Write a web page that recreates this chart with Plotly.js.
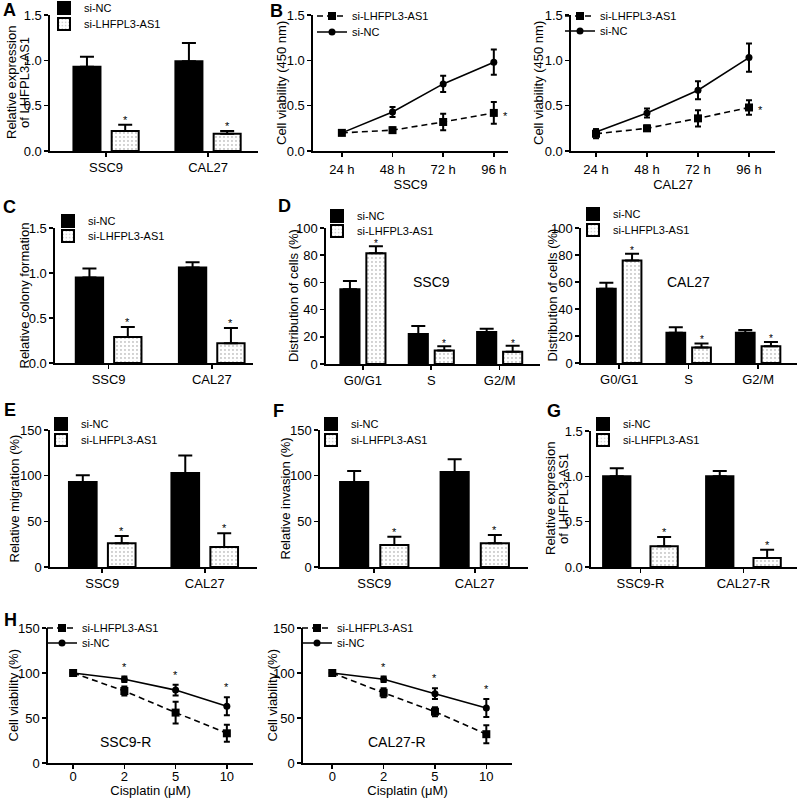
<!DOCTYPE html>
<html><head><meta charset="utf-8">
<script src="https://cdn.plot.ly/plotly-3.0.1.min.js"></script>
<style>html,body{margin:0;padding:0;background:#fff}</style>
</head><body><div id="chart" style="width:800px;height:798px"></div>
<script>
// ---------------- DATA ----------------
const seriesNC = 'si-NC';
const seriesLH = 'si-LHFPL3-AS1';

// A: relative expression of LHFPL3-AS1
const A_categories = ['SSC9', 'CAL27'];
const A_siNC = [0.93, 0.99];
const A_siNC_err = [0.11, 0.20];
const A_siLH = [0.22, 0.19];
const A_siLH_err = [0.07, 0.03];

// B: CCK-8 cell viability
const B_timepoints = ['24 h', '48 h', '72 h', '96 h'];
const B_SSC9_siLH = [0.20, 0.23, 0.32, 0.42];
const B_SSC9_siLH_err = [0.01, 0.03, 0.09, 0.12];
const B_SSC9_siNC = [0.20, 0.43, 0.74, 0.98];
const B_SSC9_siNC_err = [0.01, 0.055, 0.09, 0.14];
const B_CAL27_siLH = [0.19, 0.25, 0.36, 0.48];
const B_CAL27_siLH_err = [0.05, 0.03, 0.09, 0.08];
const B_CAL27_siNC = [0.21, 0.42, 0.67, 1.03];
const B_CAL27_siNC_err = [0.03, 0.05, 0.10, 0.155];

// C: relative colony formation
const C_categories = ['SSC9', 'CAL27'];
const C_siNC = [0.95, 1.06];
const C_siNC_err = [0.10, 0.06];
const C_siLH = [0.29, 0.22];
const C_siLH_err = [0.11, 0.17];

// D: cell cycle distribution
const D_phases = ['G0/G1', 'S', 'G2/M'];
const D_SSC9_siNC = [55, 22, 23.5];
const D_SSC9_siNC_err = [6, 6, 2.5];
const D_SSC9_siLH = [81.5, 10, 9];
const D_SSC9_siLH_err = [5, 3, 4.5];
const D_CAL27_siNC = [55, 22.5, 22.5];
const D_CAL27_siNC_err = [4.5, 4, 2];
const D_CAL27_siLH = [76, 11.5, 12.5];
const D_CAL27_siLH_err = [5, 3, 3];

// E: relative migration
const E_categories = ['SSC9', 'CAL27'];
const E_siNC = [93, 103];
const E_siNC_err = [7.5, 19];
const E_siLH = [26, 22];
const E_siLH_err = [8, 15];

// F: relative invasion
const F_categories = ['SSC9', 'CAL27'];
const F_siNC = [93, 104];
const F_siNC_err = [12, 14];
const F_siLH = [24, 26];
const F_siLH_err = [9, 9];

// G: expression in resistant lines
const G_categories = ['SSC9-R', 'CAL27-R'];
const G_siNC = [1.00, 1.00];
const G_siNC_err = [0.09, 0.06];
const G_siLH = [0.23, 0.10];
const G_siLH_err = [0.10, 0.09];

// H: cisplatin dose response
const H_doses = ['0', '2', '5', '10'];
const H_SSC9R_siLH = [100, 80, 56, 33];
const H_SSC9R_siLH_err = [0, 5, 12, 9.5];
const H_SSC9R_siNC = [100, 93, 81, 63];
const H_SSC9R_siNC_err = [0, 3, 6, 10];
const H_CAL27R_siLH = [100, 78, 57, 32];
const H_CAL27R_siLH_err = [0, 5, 5, 10];
const H_CAL27R_siNC = [100, 93, 77, 61];
const H_CAL27R_siNC_err = [0, 3, 6, 10];

// ---------------- BUILD ----------------
const W = 800, H = 798;
const FONT = '"Liberation Sans", Arial, sans-serif';
const BLACK = '#000000';
const traces = [];
const layout = {
  width: W, height: H,
  margin: {l: 0, r: 0, t: 0, b: 0, autoexpand: false},
  paper_bgcolor: '#ffffff', plot_bgcolor: 'rgba(0,0,0,0)',
  font: {family: FONT, color: BLACK, size: 13},
  showlegend: true,
  annotations: []
};
let axN = 0, legN = 0;

// y-axis title, one rotated annotation per line so line spacing matches the reference
function yTitle(lines, xs, box) {
  lines.forEach((text, i) => layout.annotations.push({
    xref: 'paper', yref: 'paper', x: xs[i] / W, y: 1 - (box.t + box.b) / 2 / H,
    xanchor: 'center', yanchor: 'middle', textangle: -90, text: text, showarrow: false,
    font: {size: 13, family: FONT, color: BLACK}
  }));
}

function axisPair(box, xr, yr, yfmt, ydtick, xtitle, xlabShift) {
  axN++;
  const sfx = axN === 1 ? '' : String(axN);
  const xid = 'x' + sfx, yid = 'y' + sfx;
  const common = {
    showline: true, linecolor: BLACK, linewidth: 1.6,
    ticks: 'outside', ticklen: 4, tickwidth: 1.6, tickcolor: BLACK,
    showgrid: false, zeroline: false, fixedrange: true,
    tickfont: {size: 13, family: FONT, color: BLACK}
  };
  layout['xaxis' + sfx] = Object.assign({}, common, {
    type: 'category', domain: [box.l / W, box.r / W], anchor: yid, range: xr,
    ticklabelstandoff: xlabShift || 0,
    title: xtitle ? {text: xtitle, font: {size: 13, family: FONT, color: BLACK}, standoff: 2} : {text: ''}
  });
  layout['yaxis' + sfx] = Object.assign({}, common, {
    domain: [1 - box.b / H, 1 - box.t / H], anchor: xid, range: yr,
    dtick: ydtick, tick0: 0, tickformat: yfmt, title: {text: ''}
  });
  return {xid, yid};
}

// one legend per entry so each entry can sit exactly where the reference has it
function addLegend(textPx, centerPx) {
  legN++;
  const key = legN === 1 ? 'legend' : 'legend' + legN;
  layout[key] = {
    x: (textPx - 40) / W, y: 1 - (centerPx - 13.5) / H, xanchor: 'left', yanchor: 'top',
    bgcolor: 'rgba(0,0,0,0)', borderwidth: 0, font: {size: 11, family: FONT, color: BLACK},
    itemwidth: 30, traceorder: 'normal', tracegroupgap: 0
  };
  return key;
}

function star(xid, yid, x, y, opts, size) {
  layout.annotations.push(Object.assign({
    xref: xid, yref: yid, x: x, y: y, text: '*', showarrow: false,
    yanchor: 'bottom', font: {size: size || 11, family: FONT, color: BLACK}
  }, opts || {}));
}

function panelText(xid, yid, lab) {
  layout.annotations.push({xref: xid, yref: yid, x: lab.x, y: lab.y, text: lab.text,
    showarrow: false, font: {size: 14, family: FONT, color: BLACK}});
}

function barPanel(c) {
  const {xid, yid} = axisPair(c.box, c.xr, c.yr, c.yfmt, c.dtick, null, 0);
  yTitle(c.ytitle, c.ytx, c.box);
  const legNC = addLegend(c.legText, c.legY[0]);
  const legLH = addLegend(c.legText, c.legY[1]);
  const zeros = c.nc.map(() => 0);
  traces.push({
    type: 'bar', x: c.cats, y: c.nc, xaxis: xid, yaxis: yid, name: seriesNC, legend: legNC,
    width: c.w, offset: -c.g / 2 - c.w,
    marker: {color: BLACK, line: {color: BLACK, width: 2}},
    error_y: {type: 'data', array: c.ncErr, arrayminus: zeros, symmetric: false, color: BLACK, thickness: 2, width: 7},
    hoverinfo: 'skip'
  });
  traces.push({
    type: 'bar', x: c.cats, y: c.lh, xaxis: xid, yaxis: yid, name: seriesLH, legend: legLH,
    width: c.w, offset: c.g / 2,
    marker: {color: '#ffffff', line: {color: BLACK, width: 2},
      pattern: {shape: '.', fgcolor: '#909090', bgcolor: '#ffffff', size: 4, solidity: 0.1}},
    error_y: {type: 'data', array: c.lhErr, arrayminus: zeros, symmetric: false, color: BLACK, thickness: 2, width: 7},
    hoverinfo: 'skip'
  });
  c.lh.forEach((v, i) => star(xid, yid, i + c.g / 2 + c.w / 2, v + c.lhErr[i],
    {yshift: c.starShift !== undefined ? c.starShift : -3}, c.starSize));
  if (c.label) panelText(xid, yid, c.label);
}

function linePanel(c) {
  const {xid, yid} = axisPair(c.box, c.xr, c.yr, c.yfmt, c.dtick, c.xtitle, c.xlabShift);
  yTitle(c.ytitle, c.ytx, c.box);
  const legLH = addLegend(c.legText, c.legY[0]);
  const legNC = addLegend(c.legText, c.legY[1]);
  traces.push({
    type: 'scatter', mode: 'lines+markers', x: c.cats, y: c.lh, xaxis: xid, yaxis: yid,
    name: seriesLH, legend: legLH,
    line: {color: BLACK, width: 1.6, dash: '6px,4px'},
    marker: {symbol: 'square', size: 8, color: BLACK},
    error_y: {type: 'data', array: c.lhErr, color: BLACK, thickness: 2, width: 3},
    hoverinfo: 'skip'
  });
  traces.push({
    type: 'scatter', mode: 'lines+markers', x: c.cats, y: c.nc, xaxis: xid, yaxis: yid,
    name: seriesNC, legend: legNC,
    line: {color: BLACK, width: 1.6},
    marker: {symbol: 'circle', size: 7, color: BLACK},
    error_y: {type: 'data', array: c.ncErr, color: BLACK, thickness: 2, width: 3},
    hoverinfo: 'skip'
  });
  if (c.starRight) {
    const last = c.lh.length - 1;
    star(xid, yid, last, c.lh[last], {yanchor: 'middle', xshift: 12, yshift: -3});
  }
  if (c.starAbove) {
    c.nc.forEach((v, i) => { if (i > 0) star(xid, yid, i, v + c.ncErr[i], {yshift: 2}); });
  }
  if (c.label) panelText(xid, yid, c.label);
}

// A
barPanel({box: {l: 50, r: 258, t: 15, b: 151}, xr: [-0.55, 1.49], yr: [0, 1.5], dtick: 0.5, yfmt: '.1f',
  ytitle: ['Relative expression', 'of LHFPL3-AS1'], ytx: [11, 24],
  cats: A_categories, nc: A_siNC, ncErr: A_siNC_err, lh: A_siLH, lhErr: A_siLH_err,
  w: 0.265, g: 0.11, legText: 84, legY: [7, 23]});
// B left
linePanel({box: {l: 313, r: 508, t: 15, b: 151}, xr: [-0.57, 3.28], yr: [0, 1.5], dtick: 0.5, yfmt: '.1f',
  ytitle: ['Cell viability (450 nm)'], ytx: [281], xtitle: 'SSC9', xlabShift: 2,
  cats: B_timepoints, nc: B_SSC9_siNC, ncErr: B_SSC9_siNC_err, lh: B_SSC9_siLH, lhErr: B_SSC9_siLH_err,
  legText: 352, legY: [15, 31], starRight: true});
// B right
linePanel({box: {l: 571, r: 775, t: 15, b: 151}, xr: [-0.49, 3.51], yr: [0, 1.5], dtick: 0.5, yfmt: '.1f',
  ytitle: ['Cell viability (450 nm)'], ytx: [538], xtitle: 'CAL27', xlabShift: 2,
  cats: B_timepoints, nc: B_CAL27_siNC, ncErr: B_CAL27_siNC_err, lh: B_CAL27_siLH, lhErr: B_CAL27_siLH_err,
  legText: 600, legY: [15, 30], starRight: true});
// C
barPanel({box: {l: 55, r: 253, t: 228, b: 363}, xr: [-0.52, 1.40], yr: [0, 1.5], dtick: 0.5, yfmt: '.1f',
  ytitle: ['Relative colony formation'], ytx: [24],
  cats: C_categories, nc: C_siNC, ncErr: C_siNC_err, lh: C_siLH, lhErr: C_siLH_err,
  w: 0.265, g: 0.107, legText: 88, legY: [220, 235]});
// D left
barPanel({box: {l: 326, r: 540, t: 228, b: 364}, xr: [-0.54, 2.59], yr: [0, 100], dtick: 20, yfmt: 'd',
  ytitle: ['Distribution of cells (%)'], ytx: [293],
  cats: D_phases, nc: D_SSC9_siNC, ncErr: D_SSC9_siNC_err, lh: D_SSC9_siLH, lhErr: D_SSC9_siLH_err,
  w: 0.28, g: 0.10, legText: 357, legY: [215, 230], label: {x: 1, y: 60, text: 'SSC9'},
  starShift: -5, starSize: 10});
// D right
barPanel({box: {l: 581, r: 797, t: 228, b: 363}, xr: [-0.55, 2.56], yr: [0, 100], dtick: 20, yfmt: 'd',
  ytitle: ['Distribution of cells (%)'], ytx: [552],
  cats: D_phases, nc: D_CAL27_siNC, ncErr: D_CAL27_siNC_err, lh: D_CAL27_siLH, lhErr: D_CAL27_siLH_err,
  w: 0.27, g: 0.10, legText: 613, legY: [213, 229], label: {x: 1, y: 60, text: 'CAL27'},
  starShift: -4, starSize: 10});
// E
barPanel({box: {l: 50, r: 257, t: 430, b: 567}, xr: [-0.51, 1.51], yr: [0, 150], dtick: 50, yfmt: 'd',
  ytitle: ['Relative migration (%)'], ytx: [14],
  cats: E_categories, nc: E_siNC, ncErr: E_siNC_err, lh: E_siLH, lhErr: E_siLH_err,
  w: 0.27, g: 0.11, legText: 81, legY: [423, 439]});
// F
barPanel({box: {l: 320, r: 528, t: 430, b: 567}, xr: [-0.54, 1.53], yr: [0, 150], dtick: 50, yfmt: 'd',
  ytitle: ['Relative invasion (%)'], ytx: [285],
  cats: F_categories, nc: F_siNC, ncErr: F_siNC_err, lh: F_siLH, lhErr: F_siLH_err,
  w: 0.28, g: 0.12, legText: 351, legY: [423, 439]});
// G
barPanel({box: {l: 591, r: 797, t: 431, b: 567}, xr: [-0.48, 1.52], yr: [0, 1.5], dtick: 0.5, yfmt: '.1f',
  ytitle: ['Relative expression', 'of LHFPL3-AS1'], ytx: [550, 563],
  cats: G_categories, nc: G_siNC, ncErr: G_siNC_err, lh: G_siLH, lhErr: G_siLH_err,
  w: 0.265, g: 0.195, legText: 623, legY: [423, 439]});
// H left
linePanel({box: {l: 48, r: 253, t: 628, b: 763}, xr: [-0.49, 3.51], yr: [0, 150], dtick: 50, yfmt: 'd',
  ytitle: ['Cell viability (%)'], ytx: [13], xtitle: 'Cisplatin (μM)', xlabShift: -3,
  cats: H_doses, nc: H_SSC9R_siNC, ncErr: H_SSC9R_siNC_err, lh: H_SSC9R_siLH, lhErr: H_SSC9R_siLH_err,
  legText: 82, legY: [627, 642], starAbove: true, label: {x: 1.02, y: 23, text: 'SSC9-R'}});
// H right
linePanel({box: {l: 303, r: 512, t: 628, b: 763}, xr: [-0.57, 3.5], yr: [0, 150], dtick: 50, yfmt: 'd',
  ytitle: ['Cell viability (%)'], ytx: [272], xtitle: 'Cisplatin (μM)', xlabShift: -3,
  cats: H_doses, nc: H_CAL27R_siNC, ncErr: H_CAL27R_siNC_err, lh: H_CAL27R_siLH, lhErr: H_CAL27R_siLH_err,
  legText: 337, legY: [627, 642], starAbove: true, label: {x: 1.27, y: 23, text: 'CAL27-R'}});

// panel letters
const panelLetters = [['A', 1, 10], ['B', 268, 11], ['C', 1, 207], ['D', 276, 206],
  ['E', 2, 410], ['F', 271, 411], ['G', 545, 411], ['H', 2, 620]];
panelLetters.forEach(([t, x, y]) => layout.annotations.push({
  xref: 'paper', yref: 'paper', x: x / W, y: 1 - y / H, xanchor: 'left', yanchor: 'middle',
  text: '<b>' + t + '</b>', showarrow: false, font: {size: 18, family: FONT, color: BLACK}
}));

Plotly.newPlot('chart', traces, layout, {staticPlot: true, displayModeBar: false});
</script></body></html>
